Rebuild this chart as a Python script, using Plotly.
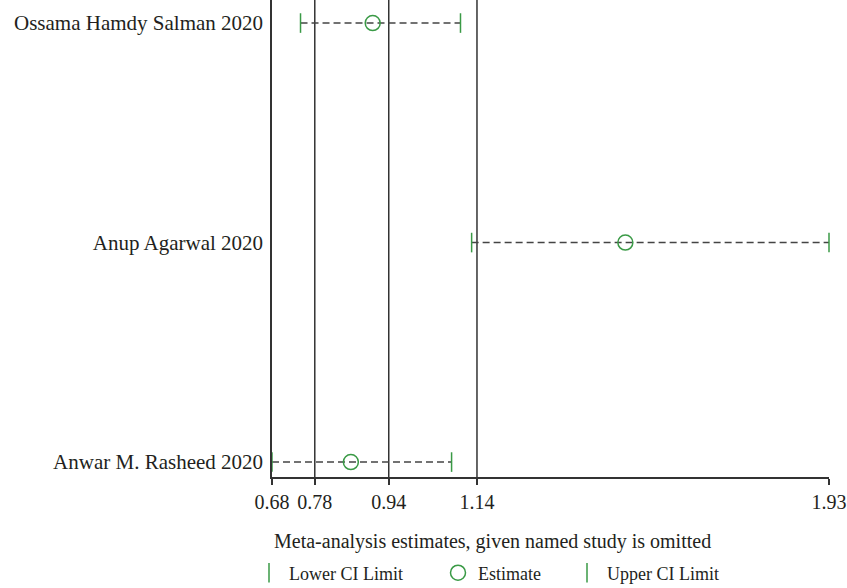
import plotly.graph_objects as go

# ---- data ----
studies = ["Anwar M. Rasheed 2020", "Anup Agarwal 2020", "Ossama Hamdy Salman 2020"]
lower = [0.68, 1.128, 0.744]
estimate = [0.857, 1.473, 0.906]
upper = [1.083, 1.93, 1.103]
ref_lines = [0.776, 0.942, 1.14]          # overall CI lower, overall estimate, CI upper
tick_vals = [0.68, 0.776, 0.942, 1.14, 1.93]
tick_text = ["0.68", "0.78", "0.94", "1.14", "1.93"]

FONT = "Liberation Serif"
TXT = "#231f20"
GREEN = "#3a9a46"
LINE = "#333333"

ypos = list(range(len(studies)))

fig = go.Figure()

# dashed CI lines
xs, ys = [], []
for i in ypos:
    xs += [lower[i], upper[i], None]
    ys += [i, i, None]
fig.add_trace(go.Scatter(x=xs, y=ys, mode="lines",
                         line=dict(color="#444444", width=1.5, dash="7px,4px"),
                         showlegend=False, hoverinfo="skip", cliponaxis=False))

fig.add_trace(go.Scatter(x=lower, y=ypos, mode="markers", name="Lower CI Limit",
                         marker=dict(symbol="line-ns", size=14, line=dict(color=GREEN, width=1.5)),
                         cliponaxis=False, legend="legend"))
fig.add_trace(go.Scatter(x=estimate, y=ypos, mode="markers", name="Estimate",
                         marker=dict(symbol="circle-open", size=15, color=GREEN, line=dict(color=GREEN, width=1.5)),
                         cliponaxis=False, legend="legend2"))
fig.add_trace(go.Scatter(x=upper, y=ypos, mode="markers", name="Upper CI Limit",
                         marker=dict(symbol="line-ns", size=14, line=dict(color=GREEN, width=1.5)),
                         cliponaxis=False, legend="legend3"))

for v in ref_lines:
    fig.add_shape(type="line", xref="x", yref="paper", x0=v, x1=v, y0=0, y1=1,
                  line=dict(color=LINE, width=1.5), layer="below")

L, R, T, B = 272, 18, 0, 111
W, H = 847, 588
pw = W - L - R
ph = H - T - B

def px_x(p):
    return (p - L) / pw

def px_y(p):
    return (H - B - p) / ph

legend_common = dict(orientation="h", xanchor="left", yanchor="middle",
                     font=dict(family=FONT, size=18, color=TXT),
                     bgcolor="rgba(0,0,0,0)", borderwidth=0)

fig.update_layout(
    width=W, height=H,
    margin=dict(l=L, r=R, t=T, b=B, autoexpand=False),
    plot_bgcolor="white", paper_bgcolor="white",
    font=dict(family=FONT, size=20, color=TXT),
    showlegend=True,
    legend=dict(x=px_x(249), y=px_y(573), **legend_common),
    legend2=dict(x=px_x(438), y=px_y(573), **legend_common),
    legend3=dict(x=px_x(567), y=px_y(573), **legend_common),
    xaxis=dict(range=[0.68, 1.93], tickvals=tick_vals, ticktext=tick_text, tickangle=0,
               showgrid=False, zeroline=False, showline=True, linecolor=LINE, linewidth=1.5,
               ticks="outside", ticklen=6, tickwidth=1.5, tickcolor=LINE, automargin=False,
               tickfont=dict(family=FONT, size=20, color=TXT)),
    yaxis=dict(range=[-0.068, 2.105], tickvals=ypos, ticktext=studies,
               showgrid=False, zeroline=False, showline=True, linecolor=LINE, linewidth=1.5,
               ticks="", ticklabelstandoff=3, automargin=False,
               tickfont=dict(family=FONT, size=21, color=TXT)),
    annotations=[dict(text="Meta-analysis estimates, given named study is omitted",
                      xref="paper", yref="paper", x=0, y=px_y(541),
                      xanchor="left", yanchor="middle", showarrow=False,
                      font=dict(family=FONT, size=20, color=TXT))],
)

fig.write_html("out.html", config={"displayModeBar": False},
               post_script="document.body.style.margin='0';")
